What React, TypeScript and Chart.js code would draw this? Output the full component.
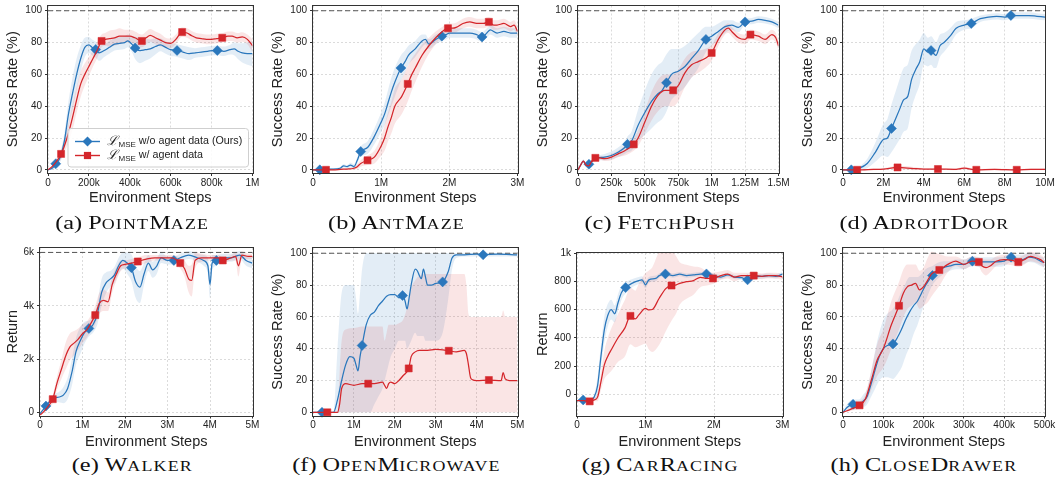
import React, { useEffect, useRef } from 'react';
import { Chart, registerables } from 'chart.js';
Chart.register(...registerables);

// ---------------- DATA ----------------
const LEGEND_LABELS = ['w/o agent data (Ours)', 'w/ agent data'];
const PCT_TICKS = [0, 20, 40, 60, 80, 100];
const PCT_LABELS = ['0', '20', '40', '60', '80', '100'];

// (a) PointMaze  (x in k steps)
const aBlueX = [0,20,40,60,80,100,120,140,160,180,200,215,233,250,275,300,325,350,375,390,410,426,450,475,500,525,550,575,600,631,660,690,720,750,780,810,828,860,890,910,930,950,975,1000];
const aBlueY = [0,1,3.8,8,18,35,48,60,70,77,78.5,77,75.6,73.5,75,77,79,79.5,80,81,79,76.6,75,75.5,76,77.5,78.5,77,75.5,75,74,73,73.5,74,74.5,75,75,74.5,75.5,76,74.5,73.5,73,73];
const aBlueSd = [0,1,2,3,5,8,10,10,8,6,5,5,5,5,4,4,4,4,4,4,5,7,8,7,6,5,4,4,4,4,4,4,3,3,3,3,3,3,3,4,5,6,7,8];
const aRedX = [0,20,40,65,80,100,120,140,160,180,200,220,240,262,280,300,325,350,375,400,425,459,480,500,525,550,575,600,625,656,680,700,725,750,775,800,825,852,880,900,925,950,975,1000];
const aRedY = [0,2,5,10,15,23,33,44,54,60,65,70,75,81,82,82.5,83,84,84,84,83,81,83,84.5,83,81.5,80,79.5,82,86.6,86,84.5,83,82.5,82,82,82.5,83,84,84,83,83.5,82,78];
const aRedSd = [0,1,2,3,4,6,8,8,8,7,6,5,5,4,4,5,5,5,4,4,4,4,4,4,4,4,3,3,3,3,3,3,3,3,3,3,3,3,3,3,3,3,3,4];
const aBlueMkX = [38,233,426,631,828];
const aBlueMkY = [3.8,75.6,76.6,75,75];
const aRedMkX = [64,262,459,656,852];
const aRedMkY = [10,81,81,86.6,83];

// (b) AntMaze  (x in M steps)
const bBlueX = [0,0.1,0.2,0.3,0.4,0.45,0.5,0.55,0.6,0.65,0.7,0.8,0.9,1.0,1.05,1.1,1.15,1.2,1.29,1.35,1.4,1.5,1.6,1.65,1.7,1.8,1.89,1.95,2.0,2.1,2.2,2.3,2.4,2.48,2.55,2.6,2.7,2.8,2.9,3.0];
const bBlueY = [0,0,0.5,0.5,1,2.5,2,3,2,6,11.5,14,21,30,35,42,49,55,64,68,72,76,81,82,79,82,84,85,86,86,86,86,85,83.5,86,88,86,87,86,86];
const bBlueSd = [0,0.5,0.5,0.5,1,1,1,1.5,1.5,2,3,4,5,6,7,8,9,9,8,7,6,5,4,3,3,3,3,3,3,3,3,3,3,3,3,3,3,3,3,3];
const bRedX = [0,0.19,0.3,0.4,0.5,0.6,0.65,0.7,0.8,0.9,1.0,1.05,1.1,1.15,1.2,1.3,1.39,1.45,1.5,1.6,1.7,1.8,1.9,1.98,2.05,2.1,2.2,2.3,2.4,2.5,2.58,2.65,2.7,2.8,2.9,2.95,3.0];
const bRedY = [0,0,0,0.3,0.5,1,2,4,6,8,15,20,27,33,40,46,54,60,64,72,78,83,87,89,89,89.5,92,93,92,92,93,91,91,92,90,91,87];
const bRedSd = [0,0.5,0.5,0.5,0.5,1,1.5,2,3,4,6,8,9,10,11,11,11,10,9,7,5,4,3,3,3,3,3,3,3,3,3,3,3,3,3,3,3];
const bBlueMkX = [0.1,0.7,1.29,1.89,2.48];
const bBlueMkY = [0,11.5,64,84,83.5];
const bRedMkX = [0.19,0.8,1.39,1.98,2.58];
const bRedMkY = [0,6,54,89,93];

// (c) FetchPush  (x in k steps)
const cBlueX = [0,20,40,60,82,100,125,150,200,250,300,350,370,400,450,500,550,600,630,662,700,750,800,850,900,957,1000,1050,1100,1150,1200,1250,1300,1350,1400,1450,1500];
const cBlueY = [0,3,5.5,3,3.5,5,7,7.5,8,9,11,14,16,18,28,36,43,48,50,54.7,60,62,65,70,75,82,84,87,90,91,89.5,93,93.5,94.5,94,93,91];
const cBlueSd = [0,1,1,1,1,1,1,1.5,2,2.5,3,4,5,6,10,14,17,18,18,18,16,14,13,12,11,8,6,5,4,3,3,2,2,2,2,2,2];
const cRedX = [0,20,40,60,80,100,130,160,200,250,300,350,417,450,500,550,600,650,712,750,800,850,900,950,1000,1050,1100,1125,1150,1200,1250,1290,1350,1400,1450,1480,1500];
const cRedY = [0,3,5.5,3,2.5,5,7.5,7.5,7,8,10,12,16,20,30,40,47,50,50,53,61,66,68,70,73.5,82,88,89,87,83,82,85,84,82,85,83,78];
const cRedSd = [0,1,1,1,1,1,1,1,1.5,2,2,3,4,5,7,9,10,10,10,10,9,8,7,6,5,4,3,3,3,3,3,3,3,3,3,3,3];
const cBlueMkX = [82,370,662,957,1250];
const cBlueMkY = [3.5,16,54.7,82,93];
const cRedMkX = [130,417,712,1000,1290];
const cRedMkY = [7.5,16,50,73.5,85];

// (d) AdroitDoor  (x in M steps)
const dBlueX = [0,0.41,0.8,1.2,1.6,2.0,2.2,2.4,2.6,2.8,3.0,3.2,3.4,3.6,3.8,4.0,4.2,4.36,4.5,4.6,4.8,5.0,5.3,5.6,6.0,6.35,6.8,7.2,7.6,8.0,8.31,8.8,9.2,9.6,10.0];
const dBlueY = [0,0,1,4,11,19,20,26,32,38,44,46,57,63,68,76,74,75,73,72,78,80,84,89,91,92,95,96,96.5,96,97,97,97,96.5,96];
const dBlueSd = [0,0,1,3,6,10,12,15,17,19,20,20,18,16,14,10,9,9,9,8,7,6,5,4,3,3,2,2,2,2,2,2,2,2,2];
const dRedX = [0,0.7,1.5,2.0,2.7,3.5,4.0,4.7,5.5,6.0,6.6,7.5,8.6,9.3,10.0];
const dRedY = [0,0,0.3,0.5,1.5,0.8,0.5,0.5,0.3,1,0,0.3,0,0.3,0.3];
const dRedSd = [0,0,0.5,0.5,1,1,0.5,0.5,0.5,1,0.5,0.5,0.5,0.5,0.5];
const dBlueMkX = [0.41,2.4,4.36,6.35,8.31];
const dBlueMkY = [0,26,75,92,97];
const dRedMkX = [0.7,2.7,4.7,6.6,8.6];
const dRedMkY = [0,1.5,0.5,0,0];

// (e) Walker  (x in M steps, y = return)
const eBlueX = [0,0.14,0.25,0.35,0.45,0.55,0.65,0.75,0.85,0.95,1.05,1.15,1.25,1.35,1.45,1.55,1.65,1.75,1.85,1.95,2.05,2.15,2.25,2.35,2.45,2.55,2.65,2.75,2.85,3.0,3.15,3.3,3.5,3.7,3.85,3.95,4.0,4.05,4.15,4.3,4.5,4.7,4.85,5.0];
const eBlueY = [-50,240,450,550,580,650,900,1500,2300,2700,3000,3150,3300,3700,4500,4850,5000,5150,5500,5700,5600,5430,4900,4700,5200,5600,5350,5500,5800,5700,5700,5800,5900,5800,5700,5500,4800,5600,5700,5800,5800,5900,5700,5600];
const eBlueSd = [0,50,100,150,200,300,400,500,500,500,400,300,300,400,500,400,300,300,300,300,400,500,600,600,400,300,300,300,200,150,150,150,150,150,200,300,500,300,200,150,150,150,200,200];
const eRedX = [0,0.1,0.2,0.3,0.4,0.5,0.6,0.7,0.8,0.9,1.0,1.1,1.2,1.3,1.4,1.5,1.6,1.7,1.8,1.9,2.0,2.15,2.3,2.5,2.7,2.9,3.1,3.3,3.4,3.5,3.57,3.65,3.8,4.0,4.2,4.3,4.5,4.6,4.67,4.75,4.9,5.0];
const eRedY = [-100,50,250,500,1100,1600,2100,2450,2600,2750,2950,3100,3350,3650,4100,4200,4150,4800,5200,5500,5550,5600,5660,5750,5800,5800,5800,5600,5400,5000,4950,5700,5800,5800,5800,5700,5800,5850,5500,5900,5850,5850];
const eRedSd = [50,50,100,150,250,350,500,500,450,400,350,300,300,350,400,400,350,300,250,200,150,150,150,150,100,100,100,200,300,500,600,300,150,100,100,100,100,150,400,150,100,100];
const eBlueMkX = [0.14,1.15,2.15,3.15,4.15];
const eBlueMkY = [240,3150,5430,5700,5700];
const eRedMkX = [0.3,1.3,2.3,3.3,4.3];
const eRedMkY = [500,3650,5660,5600,5700];

// (f) OpenMicrowave  (x in M steps)
const fBlueX = [0,0.22,0.5,0.6,0.7,0.8,0.9,1.0,1.05,1.1,1.15,1.2,1.3,1.4,1.5,1.6,1.7,1.8,1.9,2.0,2.1,2.19,2.25,2.3,2.35,2.4,2.5,2.55,2.6,2.65,2.7,2.75,2.8,2.9,3.0,3.17,3.3,3.4,3.5,3.7,4.0,4.16,4.5,5.0];
const fBlueY = [0,0,0,8,20,30,35,34,30,26,35,42,55,61,63,67,70,73,74,74,72,73.4,70,65,72,80,90,89,86,84,90,85,80,80,81,82,88,97,99,99,99.5,99,99.5,99];
const fBlueLo = [0,0,0,0,0,0,0,0,0,0,0,0,0,0,5,10,15,25,35,40,45,45,45,40,42,45,50,48,48,48,48,45,45,45,45,50,70,90,97,98,98,98,98,98];
const fBlueHi = [0,0,0,40,75,80,80,80,72,62,75,90,100,100,100,100,100,100,100,100,100,100,100,100,100,100,100,100,100,100,100,100,100,100,100,100,100,100,100,100,100,100,100,100];
const fRedX = [0,0.35,0.6,0.65,0.7,0.8,1.0,1.2,1.35,1.5,1.7,1.75,1.8,1.85,1.9,2.0,2.1,2.2,2.34,2.4,2.5,2.6,2.8,3.0,3.32,3.5,3.7,3.75,3.8,3.85,3.9,4.0,4.3,4.6,4.65,4.7,4.8,5.0];
const fRedY = [0,0,0,5,15,18,17,18,18,18,19,17,15,18,19,18,20,23,27.6,35,38,39,39,39.5,38.7,38,39,37,30,22,20.5,20,20.3,20,25,21,20,20];
const fRedLo = [0,0,0,0,0,0,0,0,0,0,0,0,0,0,0,0,0,0,0,0,0,0,0,0,0,0,0,0,0,0,0,0,0,0,0,0,0,0];
const fRedHi = [0,0,0,25,45,52,53,54,54,54,54,45,50,55,55,55,56,58,70,78,83,86,87,87,87,87,87,80,62,60,60,60,60,60,64,60,60,60];
const fBlueMkX = [0.22,1.2,2.19,3.17,4.16];
const fBlueMkY = [0,42,73.4,82,99];
const fRedMkX = [0.35,1.35,2.34,3.32,4.3];
const fRedMkY = [0,18,27.6,38.7,20.3];

// (g) CarRacing  (x in M steps, y = return)
const gBlueX = [0,0.09,0.2,0.25,0.3,0.35,0.4,0.45,0.5,0.55,0.6,0.65,0.71,0.8,0.9,0.95,1.0,1.05,1.15,1.2,1.29,1.4,1.5,1.6,1.7,1.8,1.89,2.0,2.1,2.2,2.3,2.4,2.49,2.6,2.7,2.8,2.9,3.0];
const gBlueY = [-45,-40,-40,-20,60,270,460,560,600,570,650,720,755,785,805,810,775,810,820,840,852,840,850,840,845,850,852,840,830,845,830,825,810,830,835,840,835,850];
const gBlueSd = [5,5,5,20,60,80,90,80,70,60,60,50,40,30,25,25,25,20,20,15,15,15,15,15,15,15,15,15,15,15,15,15,15,15,15,15,15,15];
const gRedX = [0,0.1,0.185,0.25,0.3,0.35,0.4,0.45,0.5,0.6,0.7,0.78,0.85,0.9,1.0,1.05,1.1,1.2,1.3,1.38,1.45,1.5,1.6,1.7,1.8,1.9,1.985,2.1,2.2,2.3,2.4,2.5,2.58,2.7,2.8,2.9,3.0];
const gRedY = [-45,-45,-50,-40,-20,90,210,270,315,400,470,555,533,560,608,597,600,680,750,770,775,785,797,805,828,820,820,840,850,830,840,840,840,835,840,840,830];
const gRedSd = [5,5,5,10,30,60,100,130,150,170,200,200,200,220,250,280,300,330,300,250,200,150,120,100,70,50,40,30,30,30,20,20,20,20,20,20,20];
const gBlueMkX = [0.09,0.71,1.29,1.89,2.49];
const gBlueMkY = [-40,755,852,852,810];
const gRedMkX = [0.185,0.78,1.38,1.985,2.58];
const gRedMkY = [-50,555,770,820,840];

// (h) CloseDrawer  (x in k steps)
const hBlueX = [0,10,25,40,50,60,70,80,90,100,110,124,135,145,155,165,175,185,195,205,222,235,250,265,280,300,321,340,360,380,400,417,430,445,460,475,490,500];
const hBlueY = [0,3,5,5,7,10,18,27,35,40,42,43,47,52,58,63,67,70,75,80,86,89,91,92,93,93,95,94.5,94.5,94.5,95,97.5,96,96,97.5,97,95,94];
const hBlueSd = [0,2,3,3,4,5,8,12,15,18,20,22,23,24,23,22,18,15,12,10,6,5,4,3,3,3,3,3,3,3,3,3,3,3,3,3,3,3];
const hRedX = [0,20,41,55,70,85,100,120,139,150,160,170,180,190,200,210,220,239,260,280,300,320,337,345,355,365,380,400,420,435,450,465,475,490,500];
const hRedY = [0,2,4.4,8,20,33,40,55,67,75,79,80,81,77,79,83,87,89.5,93,95,93,95,94.5,92,91,92,95,96,95.5,94.5,96,98,97.5,96,94];
const hRedSd = [0,1,2,3,6,10,12,15,15,15,14,13,12,12,12,14,14,10,5,3,3,3,3,4,5,4,3,3,3,3,3,3,3,3,3];
const hBlueMkX = [25,124,222,321,417];
const hBlueMkY = [5,43,86,95,97.5];
const hRedMkX = [41,139,239,337,435];
const hRedMkY = [4.4,67,89.5,94.5,94.5];

// ---------------- STYLE ----------------
const BLUE = '#2a77bc';
const RED = '#d4262b';
const BLUE_BAND = 'rgba(42,119,188,0.13)';
const RED_BAND = 'rgba(212,38,43,0.12)';
const SANS = "'Liberation Sans', Arial, sans-serif";
const SERIF = "'Liberation Serif', 'Times New Roman', serif";

type Series = { x: number[]; y: number[]; sd?: number[]; lo?: number[]; hi?: number[]; mx: number[]; my: number[] };
type Panel = {
  letter: string; name: string; cx: number; top: number; h: number;
  L: number; R: number; T: number; B: number; pb: number;
  xMin: number; xMax: number; xTicks: number[]; xLabels: string[];
  yMin: number; yMax: number; yTicks: number[]; yLabels: string[]; yTitle: string;
  ref: number | null; blue: Series; red: Series; legend?: boolean;
};

const TOP = { top: 0, h: 212, T: 5, B: 173, pb: 5 };
const BOT = { top: 235, h: 216, T: 248, B: 415.5, pb: 0.6 };

const PANELS: Panel[] = [
  { letter: '(a)', name: 'PointMaze', cx: 1, L: 48, R: 252, ...TOP, xMin: 0, xMax: 1000, xTicks: [0,200,400,600,800,1000], xLabels: ['0','200k','400k','600k','800k','1M'], yMin: -2, yMax: 103.3, yTicks: PCT_TICKS, yLabels: PCT_LABELS, yTitle: 'Success Rate (%)', ref: 100, legend: true,
    blue: { x: aBlueX, y: aBlueY, sd: aBlueSd, mx: aBlueMkX, my: aBlueMkY }, red: { x: aRedX, y: aRedY, sd: aRedSd, mx: aRedMkX, my: aRedMkY } },
  { letter: '(b)', name: 'AntMaze', cx: 266, L: 313, R: 517, ...TOP, xMin: 0, xMax: 3, xTicks: [0,1,2,3], xLabels: ['0','1M','2M','3M'], yMin: -2, yMax: 103.3, yTicks: PCT_TICKS, yLabels: PCT_LABELS, yTitle: 'Success Rate (%)', ref: 100,
    blue: { x: bBlueX, y: bBlueY, sd: bBlueSd, mx: bBlueMkX, my: bBlueMkY }, red: { x: bRedX, y: bRedY, sd: bRedSd, mx: bRedMkX, my: bRedMkY } },
  { letter: '(c)', name: 'FetchPush', cx: 531, L: 578, R: 778, ...TOP, xMin: 0, xMax: 1500, xTicks: [0,250,500,750,1000,1250,1500], xLabels: ['0','250k','500k','750k','1M','1.25M','1.5M'], yMin: -2, yMax: 103.3, yTicks: PCT_TICKS, yLabels: PCT_LABELS, yTitle: 'Success Rate (%)', ref: 100,
    blue: { x: cBlueX, y: cBlueY, sd: cBlueSd, mx: cBlueMkX, my: cBlueMkY }, red: { x: cRedX, y: cRedY, sd: cRedSd, mx: cRedMkX, my: cRedMkY } },
  { letter: '(d)', name: 'AdroitDoor', cx: 796, L: 843, R: 1045, ...TOP, xMin: 0, xMax: 10, xTicks: [0,2,4,6,8,10], xLabels: ['0','2M','4M','6M','8M','10M'], yMin: -2, yMax: 103.3, yTicks: PCT_TICKS, yLabels: PCT_LABELS, yTitle: 'Success Rate (%)', ref: 100,
    blue: { x: dBlueX, y: dBlueY, sd: dBlueSd, mx: dBlueMkX, my: dBlueMkY }, red: { x: dRedX, y: dRedY, sd: dRedSd, mx: dRedMkX, my: dRedMkY } },
  { letter: '(e)', name: 'Walker', cx: 1, L: 40, R: 252, ...BOT, xMin: 0, xMax: 5, xTicks: [0,1,2,3,4,5], xLabels: ['0','1M','2M','3M','4M','5M'], yMin: -113, yMax: 6166, yTicks: [0,2000,4000,6000], yLabels: ['0','2k','4k','6k'], yTitle: 'Return', ref: 6000,
    blue: { x: eBlueX, y: eBlueY, sd: eBlueSd, mx: eBlueMkX, my: eBlueMkY }, red: { x: eRedX, y: eRedY, sd: eRedSd, mx: eRedMkX, my: eRedMkY } },
  { letter: '(f)', name: 'OpenMicrowave', cx: 266, L: 313, R: 517, ...BOT, xMin: 0, xMax: 5, xTicks: [0,1,2,3,4,5], xLabels: ['0','1M','2M','3M','4M','5M'], yMin: -2, yMax: 103.3, yTicks: PCT_TICKS, yLabels: PCT_LABELS, yTitle: 'Success Rate (%)', ref: 100,
    blue: { x: fBlueX, y: fBlueY, lo: fBlueLo, hi: fBlueHi, mx: fBlueMkX, my: fBlueMkY }, red: { x: fRedX, y: fRedY, lo: fRedLo, hi: fRedHi, mx: fRedMkX, my: fRedMkY } },
  { letter: '(g)', name: 'CarRacing', cx: 531, L: 577, R: 782, ...BOT, T: 253, xMin: 0, xMax: 3, xTicks: [0,1,2,3], xLabels: ['0','1M','2M','3M'], yMin: -150, yMax: 1000, yTicks: [0,200,400,600,800,1000], yLabels: ['0','200','400','600','800','1k'], yTitle: 'Return', ref: null,
    blue: { x: gBlueX, y: gBlueY, sd: gBlueSd, mx: gBlueMkX, my: gBlueMkY }, red: { x: gRedX, y: gRedY, sd: gRedSd, mx: gRedMkX, my: gRedMkY } },
  { letter: '(h)', name: 'CloseDrawer', cx: 796, L: 843, R: 1044, ...BOT, xMin: 0, xMax: 500, xTicks: [0,100,200,300,400,500], xLabels: ['0','100k','200k','300k','400k','500k'], yMin: -2, yMax: 103.3, yTicks: PCT_TICKS, yLabels: PCT_LABELS, yTitle: 'Success Rate (%)', ref: 100,
    blue: { x: hBlueX, y: hBlueY, sd: hBlueSd, mx: hBlueMkX, my: hBlueMkY }, red: { x: hRedX, y: hRedY, sd: hRedSd, mx: hRedMkX, my: hRedMkY } },
];

const pts = (xs: number[], ys: number[]) => xs.map((x, i) => ({ x, y: ys[i] }));
const bandOf = (s: Series): [number[], number[]] =>
  s.lo && s.hi ? [s.lo, s.hi] : [s.y.map((v, i) => v - (s.sd as number[])[i]), s.y.map((v, i) => v + (s.sd as number[])[i])];

const framePlugin = {
  id: 'frame',
  afterDatasetsDraw(chart: any) {
    const { ctx, chartArea: a } = chart;
    ctx.save();
    ctx.strokeStyle = '#333';
    ctx.lineWidth = 1;
    const l = Math.round(a.left) - 0.5, t = Math.round(a.top) - 0.5;
    const r = Math.round(a.right) + 0.5, b = Math.round(a.bottom) + 0.5;
    ctx.strokeRect(l, t, r - l, b - t);
    ctx.restore();
  },
};

const legendPlugin = {
  id: 'mseLegend',
  afterDraw(chart: any) {
    const { ctx, chartArea: a } = chart;
    const x0 = a.left + 20, y0 = a.top + 123, x1 = a.right - 4, y1 = a.bottom - 6;
    ctx.save();
    ctx.beginPath();
    const rr = 3;
    ctx.moveTo(x0 + rr, y0);
    ctx.arcTo(x1, y0, x1, y1, rr);
    ctx.arcTo(x1, y1, x0, y1, rr);
    ctx.arcTo(x0, y1, x0, y0, rr);
    ctx.arcTo(x0, y0, x1, y0, rr);
    ctx.closePath();
    ctx.fillStyle = 'rgba(255,255,255,0.85)';
    ctx.fill();
    ctx.strokeStyle = '#cfcfcf';
    ctx.lineWidth = 1;
    ctx.stroke();
    const entries = [
      { color: BLUE, diamond: true, text: LEGEND_LABELS[0] },
      { color: RED, diamond: false, text: LEGEND_LABELS[1] },
    ];
    entries.forEach((e, i) => {
      const y = y0 + 13 + i * 14;
      ctx.strokeStyle = e.color;
      ctx.lineWidth = 1.4;
      ctx.beginPath();
      ctx.moveTo(x0 + 7, y);
      ctx.lineTo(x0 + 32, y);
      ctx.stroke();
      ctx.fillStyle = e.color;
      const mx = x0 + 19.5;
      ctx.beginPath();
      if (e.diamond) {
        ctx.moveTo(mx, y - 5); ctx.lineTo(mx + 5, y); ctx.lineTo(mx, y + 5); ctx.lineTo(mx - 5, y);
      } else {
        ctx.rect(mx - 3.6, y - 3.6, 7.2, 7.2);
      }
      ctx.closePath();
      ctx.fill();
      ctx.fillStyle = '#222';
      ctx.textBaseline = 'middle';
      let tx = x0 + 39;
      ctx.font = `italic 13px 'DejaVu Serif', serif`;
      ctx.fillText('ℒ', tx, y);
      tx += ctx.measureText('ℒ').width + 0.5;
      ctx.font = `8px ${SANS}`;
      ctx.fillText('MSE', tx, y + 3);
      tx += ctx.measureText('MSE').width + 3;
      ctx.font = `10.7px ${SANS}`;
      ctx.fillText(e.text, tx, y);
    });
    ctx.restore();
  },
};

function buildConfig(p: Panel, width: number): any {
  const [blo, bhi] = bandOf(p.blue);
  const [rlo, rhi] = bandOf(p.red);
  const line = (s: Series, color: string) => ({
    data: pts(s.x, s.y), borderColor: color, borderWidth: 1.25, pointRadius: 0,
    cubicInterpolationMode: 'monotone', fill: false,
  });
  const marks = (s: Series, color: string, style: string, r: number) => ({
    data: pts(s.mx, s.my), showLine: false, pointStyle: style, pointRadius: r,
    pointBackgroundColor: color, pointBorderColor: color, pointBorderWidth: 0.5, clip: false,
  });
  const band = (xs: number[], ys: number[], fillColor: string, fill: any) => ({
    data: pts(xs, ys), borderWidth: 0, borderColor: 'rgba(0,0,0,0)', pointRadius: 0,
    backgroundColor: fillColor, fill, cubicInterpolationMode: 'monotone',
  });
  const datasets: any[] = [
    marks(p.red, RED, 'rect', 5),
    line(p.red, RED),
    marks(p.blue, BLUE, 'rectRot', 5),
    line(p.blue, BLUE),
  ];
  if (p.ref !== null) {
    datasets.push({
      data: [{ x: p.xMin, y: p.ref }, { x: p.xMax, y: p.ref }], borderColor: '#555', borderWidth: 1,
      borderDash: [5, 3], pointRadius: 0, fill: false,
    });
  }
  datasets.push(band(p.red.x, rhi, RED_BAND, '+1'), band(p.red.x, rlo, RED_BAND, false));
  datasets.push(band(p.blue.x, bhi, BLUE_BAND, '+1'), band(p.blue.x, blo, BLUE_BAND, false));

  const padR = p.cx + width - p.R;
  const tickFont = { family: SANS, size: 10 };
  const titleFont = { family: SANS, size: 14.5, lineHeight: 1.2 };
  const grid = { color: '#d2d2d2', lineWidth: 0.8, drawTicks: true, tickLength: 3, tickColor: '#333', tickWidth: 1, tickBorderDash: [] };
  const zeroPad = (s: any) => { s.paddingLeft = 0; s.paddingRight = 0; s.paddingTop = 0; s.paddingBottom = 0; };
  return {
    type: 'line',
    data: { datasets },
    options: {
      animation: false, responsive: false, devicePixelRatio: 1, parsing: true,
      layout: { padding: { left: 0, right: padR, top: p.T - p.top, bottom: 0 } },
      plugins: { legend: { display: false }, tooltip: { enabled: false } },
      scales: {
        x: {
          type: 'linear', min: p.xMin, max: p.xMax,
          afterBuildTicks: (s: any) => { s.ticks = p.xTicks.map((v) => ({ value: v })); },
          afterFit: (s: any) => { s.height = p.h - (p.B - p.top); zeroPad(s); },
          ticks: { callback: (_v: any, i: number) => p.xLabels[i], font: tickFont, color: '#222', padding: 1, maxRotation: 0, autoSkip: false },
          grid, border: { display: false, dash: [2, 2] },
          title: { display: true, text: 'Environment Steps', font: titleFont, color: '#222', padding: { top: 0, bottom: p.pb } },
        },
        y: {
          type: 'linear', min: p.yMin, max: p.yMax,
          afterBuildTicks: (s: any) => { s.ticks = p.yTicks.map((v) => ({ value: v })); },
          afterFit: (s: any) => { s.width = p.L - p.cx; zeroPad(s); },
          ticks: { callback: (_v: any, i: number) => p.yLabels[i], font: tickFont, color: '#222', padding: 3, autoSkip: false },
          grid, border: { display: false, dash: [2, 2] },
          title: { display: true, text: p.yTitle, font: titleFont, color: '#222', padding: { top: 3.3, bottom: 0 } },
        },
      },
    },
    plugins: p.legend ? [framePlugin, legendPlugin] : [framePlugin],
  };
}

function PanelChart({ p }: { p: Panel }) {
  const ref = useRef<HTMLCanvasElement | null>(null);
  const width = Math.min(1056, p.R + 11.5) - p.cx;
  useEffect(() => {
    if (!ref.current) return;
    const chart = new Chart(ref.current, buildConfig(p, width));
    return () => chart.destroy();
  }, []);
  return (
    <canvas
      ref={ref}
      width={Math.round(width)}
      height={p.h}
      style={{ position: 'absolute', left: p.cx, top: p.top, width: Math.round(width), height: p.h }}
    />
  );
}

// Caption in LaTeX-like small caps: first letter of each word full size, rest smaller capitals.
function Caption({ p, i }: { p: Panel; i: number }) {
  const words = p.name.match(/[A-Z][a-z]*/g) || [p.name];
  return (
    <div
      style={{
        position: 'absolute', left: 132 + 264 * (i % 4) - 130, width: 260,
        top: i < 4 ? 211 : 453, height: 24, lineHeight: '24px', textAlign: 'center',
        fontFamily: SERIF, fontSize: 19, color: '#111', whiteSpace: 'nowrap',
      }}
    >
      <span style={{ display: 'inline-block', transform: 'scaleX(1.28)' }}>
        {p.letter}{' '}
        {words.map((w, k) => (
          <span key={k}>
            {w[0]}
            <span style={{ fontSize: 14, textTransform: 'uppercase', letterSpacing: 0.9 }}>{w.slice(1)}</span>
          </span>
        ))}
      </span>
    </div>
  );
}

export default function App() {
  return (
    <div style={{ position: 'absolute', left: 0, top: 0, width: 1056, height: 481, background: '#fff', overflow: 'hidden' }}>
      {PANELS.map((p) => (
        <PanelChart key={p.letter} p={p} />
      ))}
      {PANELS.map((p, i) => (
        <Caption key={'cap' + p.letter} p={p} i={i} />
      ))}
    </div>
  );
}
